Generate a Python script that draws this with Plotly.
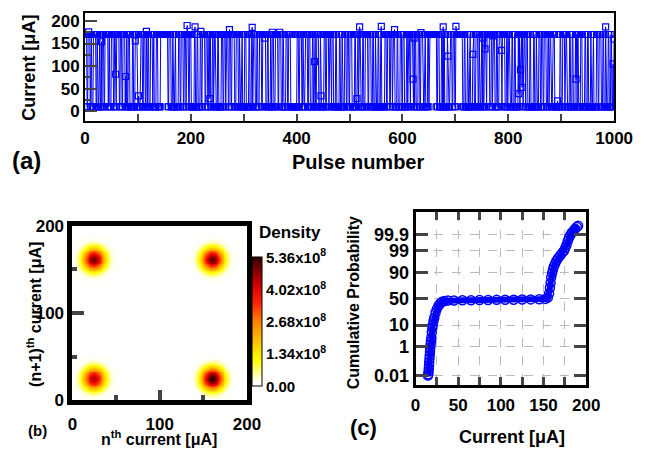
import math
from statistics import NormalDist
import plotly.graph_objects as go

W, H = 663, 464
FONT = "Liberation Sans, Arial, sans-serif"
BLUE = "#0000ff"

# ---------------- Panel (a): pulse train ----------------
high_level = 170
low_level = 10
# alternating run lengths (first run = high state)
run_lengths = [
    3, 2, 4, 1, 2, 3, 5, 2, 1, 3, 2, 4, 3, 2, 6, 1, 2, 3, 4, 2, 3, 1, 5, 2, 3,
    2, 4, 3, 1, 2, 3, 5, 2, 4, 3, 2, 1, 3, 4, 2, 3, 5, 2, 3, 4, 1, 2, 4, 3, 5,
    14,
    2, 4, 3, 1, 3, 2, 5, 3, 2, 4, 2, 3, 1, 4, 2, 3, 6, 2, 3, 2, 4, 1, 3, 5, 2,
    3, 2, 4, 3, 2, 1, 3, 4, 2, 5, 3, 2, 3, 1, 4, 2, 3, 2, 5, 3, 4, 2, 1, 3, 2,
    4, 3, 5, 2, 3, 2, 1, 4, 3, 2, 3, 4, 2, 6, 3, 2, 4, 1, 3, 2, 3, 5, 2, 4, 3,
    2, 4, 3, 2, 4,
    12,
    3, 2, 4, 2, 1, 3, 5, 2, 3, 4, 2, 3, 1, 2, 4, 3, 2, 5, 3, 2, 4, 1, 3, 2, 3,
    4, 2, 5, 2, 3, 1, 4, 3, 2, 3, 2, 4, 5, 2, 3, 2, 1, 3, 4, 2, 3, 5, 2, 4, 3,
    2, 3, 1, 4, 2, 3, 2, 6, 3, 2, 4, 2, 3, 1, 3, 5, 2, 4, 3, 2, 3, 4, 2, 1, 3,
    2, 5, 3, 2, 4, 3, 2, 4, 3, 2, 4, 2, 1,
    14,
    2, 3, 4, 2, 3, 1, 5, 2, 3, 4, 2, 3, 3,
    12,
    3, 2, 4, 1, 3, 2, 5, 2, 3, 4, 2, 1, 3, 2, 4, 3, 2, 5, 3, 2, 1, 4, 3, 2, 3,
    4, 2, 5, 3, 2, 1, 3, 4, 2, 3, 2, 5, 3, 2, 4, 1, 3, 2, 3, 4, 2, 5, 2, 3, 1,
    4, 3, 2, 3, 2, 4, 3, 2, 1, 3, 3, 4,
    10,
    2, 3, 4, 1, 3, 5, 2, 3, 2, 4, 3, 1, 2, 4, 3, 5, 2, 3, 2, 4, 1, 3, 2, 5, 3,
    2, 4, 3, 2, 3, 1, 4, 2, 3, 2, 5,
]
outlier_pulse = [7, 31, 58, 77, 95, 101, 116, 193, 208, 219, 236, 273, 316, 340,
                 354, 368, 434, 446, 514, 519, 560, 585, 620, 622, 635, 677, 686,
                 701, 733, 752, 756, 771, 787, 820, 823, 826, 893, 928, 984, 998,
                 1000]
outlier_current = [176, 154, 82, 77, 156, 34, 177, 190, 187, 177, 28, 181, 186,
                   162, 175, 175, 110, 34, 28, 187, 188, 181, 71, 162, 174, 187,
                   122, 188, 126, 162, 138, 167, 135, 39, 92, 53, 23, 71, 187,
                   105, 160]

pulse_current = []
for i, n in enumerate(run_lengths):
    pulse_current += [high_level if i % 2 == 0 else low_level] * n
pulse_number = list(range(1, len(pulse_current) + 1))
for p, v in zip(outlier_pulse, outlier_current):
    if 1 <= p <= len(pulse_current):
        pulse_current[p - 1] = v

# ---------------- Panel (b): lag-map density ----------------
blob_x = [25, 161, 25, 161]
blob_y = [161, 161, 24, 24]
blob_peak = [4.9e8, 5.0e8, 4.4e8, 5.36e8]
blob_sigma = [9.0, 9.0, 9.0, 9.0]
grid = list(range(0, 201))
density = []
for gy in grid:
    row = []
    for gx in grid:
        s = 0.0
        for bx, by, bp, bs in zip(blob_x, blob_y, blob_peak, blob_sigma):
            s += bp * math.exp(-((gx - bx) ** 2 + (gy - by) ** 2) / (2 * bs * bs))
        row.append(s)
    density.append(row)
cb_vals = [0, 1.34e8, 2.68e8, 4.02e8, 5.36e8]
cb_text = ["0.00", "1.34x10<sup>8</sup>", "2.68x10<sup>8</sup>",
           "4.02x10<sup>8</sup>", "5.36x10<sup>8</sup>"]

# ---------------- Panel (c): cumulative probability ----------------
cdf_current = [14.5, 15.0, 15.2, 15.5, 15.8, 16.0, 16.3, 16.6, 16.9, 17.2,
               17.6, 18.0, 18.5, 19.0, 19.6, 20.2, 21.0, 22.0, 23.4, 25.0,
               27, 29, 31, 34, 38, 45, 55, 65, 75, 85,
               95, 105, 115, 125, 135, 145, 152, 155, 156.5, 157.5,
               158.3, 159, 160, 161, 162, 163.5, 165, 167, 169.5, 172,
               174, 175.5, 177, 178.5, 180, 181.5, 183, 185, 187, 189, 190.5]
cdf_percent = [0.0095, 0.012, 0.02, 0.035, 0.06, 0.1, 0.18, 0.3, 0.5, 0.8,
               1.3, 2, 3, 5, 7.5, 10, 14, 18, 25, 31,
               37, 41, 44, 45.5, 46.2, 46.5, 46.8, 47.0, 47.2, 47.4,
               47.6, 47.8, 48.0, 48.2, 48.5, 48.8, 49.5, 52, 60, 70,
               78, 85, 89, 92, 94, 95.5, 96.6, 97.5, 98.2, 98.7,
               99, 99.3, 99.55, 99.75, 99.85, 99.9, 99.93, 99.95, 99.965, 99.975, 99.98]
prob_ticks = [0.01, 1, 10, 50, 90, 99, 99.9]
prob_labels = ["0.01", "1", "10", "50", "90", "99", "99.9"]

nd = NormalDist()
cdf_z = [nd.inv_cdf(p / 100.0) for p in cdf_percent]
tick_z = [nd.inv_cdf(p / 100.0) for p in prob_ticks]


def px_x(x):
    return x / W


def px_y(y):
    return 1 - y / H


fig = go.Figure()

fig.add_trace(go.Scatter(
    x=pulse_number, y=pulse_current, mode="lines+markers",
    line=dict(color=BLUE, width=1),
    marker=dict(symbol="square-open", size=6, color=BLUE, line=dict(width=1.2)),
    xaxis="x", yaxis="y", showlegend=False))

colorscale = [
    [0.0, "#ffffff"], [0.04, "#fffff0"], [0.1, "#ffff99"], [0.2, "#ffff00"],
    [0.35, "#ffc000"], [0.5, "#ff8000"], [0.65, "#ff2000"], [0.78, "#d00000"],
    [0.9, "#800000"], [1.0, "#2a0000"]]

fig.add_trace(go.Heatmap(
    x=grid, y=grid, z=density, zmin=0, zmax=5.36e8, colorscale=colorscale,
    xaxis="x2", yaxis="y2",
    colorbar=dict(
        x=px_x(256), xanchor="left", y=px_y(259), yanchor="top",
        len=135 / H, lenmode="fraction", thickness=10, thicknessmode="pixels",
        outlinewidth=1, outlinecolor="black", xpad=0, ypad=0,
        tickmode="array", tickvals=cb_vals, ticktext=cb_text, ticks="",
        tickfont=dict(family=FONT, size=15, color="black", weight="bold"))))

fig.add_trace(go.Scatter(
    x=cdf_current, y=cdf_z, mode="lines+markers",
    line=dict(color=BLUE, width=6),
    marker=dict(symbol="circle-open", size=9, color=BLUE, line=dict(width=1.5)),
    xaxis="x3", yaxis="y3", showlegend=False))

tf17 = dict(family=FONT, size=17, color="black", weight="bold")
tf18 = dict(family=FONT, size=18, color="black", weight="bold")

fig.update_layout(
    width=W, height=H, autosize=False,
    margin=dict(l=0, r=0, t=0, b=0),
    paper_bgcolor="white", plot_bgcolor="white",
    font=dict(family=FONT, color="black", weight="bold"),
    showlegend=False,
    xaxis=dict(domain=[px_x(83), px_x(632)], anchor="y", range=[0, 1000],
               tick0=0, dtick=200, ticks="inside", ticklen=7, tickwidth=2,
               minor=dict(dtick=100, tick0=0, ticks="inside", ticklen=7, tickwidth=2),
               showline=True, linewidth=2, linecolor="black", mirror=True,
               showgrid=False, zeroline=False, tickfont=tf17, ticklabelstandoff=0),
    yaxis=dict(domain=[px_y(117), px_y(4)], anchor="x", range=[-22, 218],
               tick0=0, dtick=50, ticks="inside", ticklen=12, tickwidth=2,
               minor=dict(dtick=25, tick0=0, ticks="inside", ticklen=6, tickwidth=2),
               showline=True, linewidth=2, linecolor="black", mirror=True,
               showgrid=False, zeroline=False, tickfont=tf17),
    xaxis2=dict(domain=[px_x(70), px_x(251)], anchor="y2", range=[0, 200],
                tickmode="array", tickvals=[0, 100, 200], ticks="inside",
                ticklen=10, tickwidth=4,
                minor=dict(tickvals=[50, 150], ticks="inside", ticklen=5, tickwidth=4),
                showline=True, linewidth=5, linecolor="black", mirror=True,
                showgrid=False, zeroline=False, tickfont=tf17, ticklabelstandoff=4),
    yaxis2=dict(domain=[px_y(408), px_y(226)], anchor="x2", range=[0, 200],
                tickmode="array", tickvals=[0, 100, 200], ticks="inside",
                ticklen=12, tickwidth=4,
                minor=dict(tickvals=[50, 150], ticks="inside", ticklen=5, tickwidth=4),
                showline=True, linewidth=5, linecolor="black", mirror=True,
                showgrid=False, zeroline=False, tickfont=tf17),
    xaxis3=dict(domain=[px_x(426), px_x(603)], anchor="y3", range=[0, 200],
                tick0=0, dtick=50, ticks="inside", ticklen=8, tickwidth=3,
                minor=dict(dtick=25, tick0=0, ticks="inside", ticklen=8, tickwidth=3,
                           showgrid=True, gridcolor="#bbbbbb", griddash="dash",
                           gridwidth=1),
                showgrid=True, gridcolor="#bbbbbb", griddash="dash", gridwidth=1,
                showline=True, linewidth=3, linecolor="black", mirror="allticks",
                zeroline=False, tickfont=tf17, ticklabelstandoff=3),
    yaxis3=dict(domain=[px_y(392), px_y(212)], anchor="x3", range=[-4.19, 4.19],
                tickmode="array", tickvals=tick_z, ticktext=prob_labels,
                ticks="inside", ticklen=12, tickwidth=3,
                showgrid=True, gridcolor="#bbbbbb", griddash="dash", gridwidth=1,
                showline=True, linewidth=3, linecolor="black", mirror="allticks",
                zeroline=False, tickfont=tf18),
)


def ann(text, x, y, size, angle=0):
    return dict(text=text, x=px_x(x), y=px_y(y), xref="paper", yref="paper",
                showarrow=False, textangle=angle, xanchor="center", yanchor="middle",
                font=dict(family=FONT, size=size, color="black", weight="bold"))


fig.update_layout(annotations=[
    ann("(a)", 22, 158, 24),
    ann("Pulse number", 366, 160, 20),
    ann("Current [μA]", 24, 61, 18, -90),
    ann("(b)", 34, 440, 15),
    ann("n<sup>th</sup> current [μA]", 160, 447, 16),
    ann("(n+1)<sup>th</sup> current [μA]", 30, 318, 16, -90),
    ann("Density", 296, 233, 17),
    ann("(c)", 372, 436, 22),
    ann("Current [μA]", 526, 446, 18),
    ann("Cumulative Probability", 362, 306, 16, -90),
])

post = (
    "var d=document.documentElement, b=document.body;"
    "d.style.margin='0'; d.style.padding='0'; d.style.overflow='hidden';"
    "b.style.margin='0'; b.style.padding='0'; b.style.overflow='hidden';"
    "var gd=document.getElementById('{plot_id}');"
    "gd.style.width='663px'; gd.style.height='464px';"
    "Plotly.relayout(gd, {autosize: false, width: 663, height: 464});"
)

fig.write_html("out.html", config={"displayModeBar": False, "responsive": False},
               post_script=post)
